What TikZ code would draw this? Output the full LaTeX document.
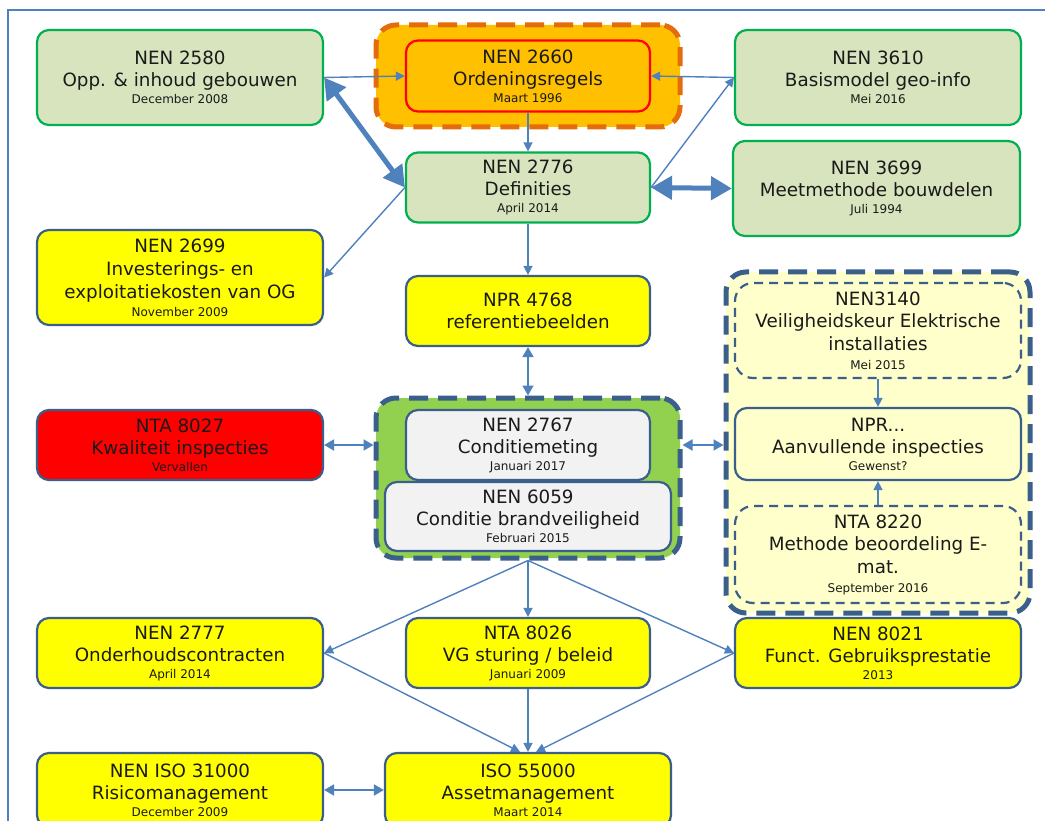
\documentclass[tikz,border=0pt]{standalone}
\usepackage{fontspec}
\setmainfont{DejaVu Sans}
\usetikzlibrary{arrows.meta}
\definecolor{arr}{HTML}{4F81BD}
\definecolor{gfill}{HTML}{D7E4BD}
\definecolor{gline}{HTML}{00B050}
\definecolor{bline}{HTML}{3A5F8B}
\definecolor{yel}{HTML}{FFFF00}
\definecolor{org}{HTML}{FFC000}
\definecolor{orgdash}{HTML}{E46C0A}
\definecolor{lgreen}{HTML}{92D050}
\definecolor{lyel}{HTML}{FFFFCC}
\definecolor{boxgray}{HTML}{F2F2F2}
\definecolor{txt}{HTML}{1A1A1A}
\newcommand\mainf{\fontsize{18.3}{22}\selectfont}
\newcommand\datef{\fontsize{12}{13}\selectfont}
\begin{document}
\begin{tikzpicture}[x=1pt,y=-1pt,
  box/.style={rounded corners=12pt, line width=2.2pt, inner sep=0pt, align=center, text=txt, font=\mainf},
  wide/.style={minimum width=286pt},
  narrow/.style={minimum width=244pt},
  greenbox/.style={box, draw=gline, fill=gfill},
  yelbox/.style={box, draw=bline, fill=yel},
  graybox/.style={box, draw=bline, fill=boxgray},
  grp/.style={rounded corners=20pt, line width=5pt, dash pattern=on 19pt off 10pt, inner sep=0pt},
  smalldash/.style={box, draw=bline, fill=lyel, rounded corners=18pt, dash pattern=on 9pt off 6pt},
  thin/.style={draw=arr, line width=1.4pt, -{Triangle[length=9pt,width=9pt]}},
  thinboth/.style={draw=arr, line width=1.8pt, {Triangle[length=10pt,width=11pt]}-{Triangle[length=10pt,width=11pt]}},
  thick/.style={draw=arr, line width=5pt, {Triangle[length=21pt,width=23pt]}-{Triangle[length=21pt,width=23pt]}}
]
\useasboundingbox (0,0) rectangle (1045,821);
\clip (0,0) rectangle (1045,821);
\fill[white] (0,0) rectangle (1045,821);
\draw[arr, line width=1.2pt] (8,830) -- (8,10) -- (1050,10);

% groups
\node[grp, draw=orgdash, fill=org, minimum width=304pt, minimum height=102pt] (grpO) at (528,76) {};
\node[grp, draw=bline, fill=lgreen, minimum width=304pt, minimum height=160pt] (grpG) at (528,478) {};
\node[grp, draw=bline, fill=lyel, minimum width=304pt, minimum height=341pt] (grpR) at (878,442.5) {};

% top row
\node[greenbox, wide, minimum height=95pt] (n2580) at (180,77.5) {NEN 2580\\Opp. \& inhoud gebouwen\\[-5pt]{\datef December 2008}};
\node[box, narrow, draw=red, fill=org, minimum height=71pt] (n2660) at (528,76) {NEN 2660\\Ordeningsregels\\[-5pt]{\datef Maart 1996}};
\node[greenbox, wide, minimum height=95pt] (n3610) at (878,77.5) {NEN 3610\\Basismodel geo-info\\[-5pt]{\datef Mei 2016}};

\node[greenbox, narrow, minimum height=70pt] (n2776) at (528,187.5) {NEN 2776\\Definities\\[-5pt]{\datef April 2014}};
\node[greenbox, minimum width=287pt, minimum height=95pt] (n3699) at (876.5,188.5) {NEN 3699\\Meetmethode bouwdelen\\[-5pt]{\datef Juli 1994}};

\node[yelbox, wide, minimum height=95pt] (n2699) at (180,277.5) {NEN 2699\\[1pt]Investerings- en\\[1pt]exploitatiekosten van OG\\[-4pt]{\datef November 2009}};
\node[yelbox, narrow, minimum height=70pt] (n4768) at (528,311) {NPR 4768\\referentiebeelden};

% right group
\node[smalldash, wide, minimum height=95pt] (n3140) at (878,330.5) {NEN3140\\Veiligheidskeur Elektrische\\[1pt]installaties\\[-3pt]{\datef Mei 2015}};
\node[box, wide, draw=bline, fill=lyel, minimum height=72pt] (nNPR) at (878,444) {NPR...\\Aanvullende inspecties\\[-5pt]{\datef Gewenst?}};
\node[smalldash, wide, minimum height=97pt] (n8220) at (878,554.5) {NTA 8220\\Methode beoordeling E-\\[1pt]mat.\\[-3pt]{\datef September 2016}};

% middle
\node[box, wide, draw=bline, fill=red, minimum height=70pt] (n8027) at (180,445) {NTA 8027\\Kwaliteit inspecties\\[-5pt]{\datef Vervallen}};
\node[graybox, narrow, minimum height=70pt] (n2767) at (528,445) {NEN 2767\\Conditiemeting\\[-5pt]{\datef Januari 2017}};
\node[graybox, wide, minimum height=69pt] (n6059) at (528,516.5) {NEN 6059\\Conditie brandveiligheid\\[-5pt]{\datef Februari 2015}};

% lower rows
\node[yelbox, wide, minimum height=70pt] (n2777) at (180,653) {NEN 2777\\Onderhoudscontracten\\[-5pt]{\datef April 2014}};
\node[yelbox, narrow, minimum height=70pt] (n8026) at (528,653) {NTA 8026\\VG sturing / beleid\\[-5pt]{\datef Januari 2009}};
\node[yelbox, wide, minimum height=70pt] (n8021) at (878,653) {NEN 8021\\Funct. Gebruiksprestatie\\[-5pt]{\datef 2013}};

\node[yelbox, wide, minimum height=74pt] (n31000) at (180,790) {NEN ISO 31000\\Risicomanagement\\[-5pt]{\datef December 2009}};
\node[yelbox, wide, minimum height=74pt] (n55000) at (528,790) {ISO 55000\\Assetmanagement\\[-5pt]{\datef Maart 2014}};

% connectors
\draw[thin] (n2580.east) -- (n2660.west);
\draw[thin] (n3610.west) -- (n2660.east);
\draw[thin] (n2660.south) -- (n2776.north);
\draw[thick] (n2580.east) -- (n2776.west);
\draw[thin] (n2776.west) -- (n2699.east);
\draw[thin] (n2776.east) -- (n3610.west);
\draw[thick] (n2776.east) -- (n3699.west);
\draw[thin] (n2776.south) -- (n4768.north);
\draw[thinboth] (n4768.south) -- (grpG.north);
\draw[thinboth] (n8027.east) -- (n8027.east -| grpG.west);
\draw[thinboth] (n2767.east -| grpG.east) -- (n2767.east -| grpR.west);
\draw[thin] (n3140.south) -- (nNPR.north);
\draw[thin] (n8220.north) -- (nNPR.south);
\draw[thin] (grpG.south) -- (n2777.east);
\draw[thin] (grpG.south) -- (n8026.north);
\draw[thin] (grpG.south) -- (n8021.west);
\draw[thin] (n2777.east) -- ([xshift=-8pt]n55000.north);
\draw[thin] (n8026.south) -- (n55000.north);
\draw[thin] (n8021.west) -- ([xshift=8pt]n55000.north);
\draw[thinboth] (n31000.east) -- (n55000.west);
\end{tikzpicture}
\end{document}
